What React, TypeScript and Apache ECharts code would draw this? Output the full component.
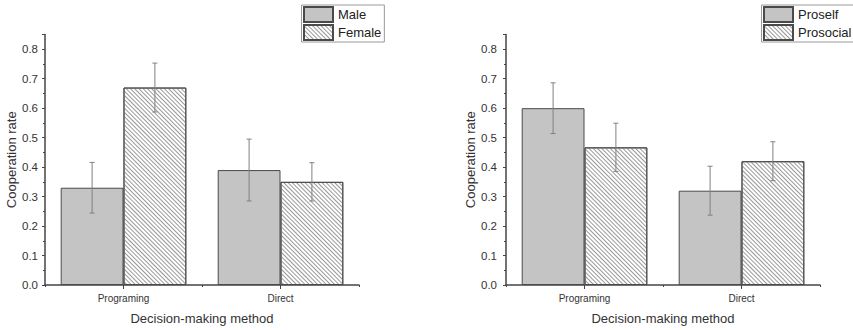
import React, { useEffect, useRef } from "react";
import * as echarts from "echarts";

const categories = ["Programing", "Direct"];
const maleValues = [0.33, 0.39];
const maleErrors = [0.086, 0.105];
const femaleValues = [0.67, 0.35];
const femaleErrors = [0.083, 0.065];
const proselfValues = [0.6, 0.32];
const proselfErrors = [0.086, 0.083];
const prosocialValues = [0.467, 0.42];
const prosocialErrors = [0.082, 0.066];
const yTickInterval = 0.1;

const FONT = "'Liberation Sans', Arial, sans-serif";
const AXIS_COLOR = "#444";
const TEXT_COLOR = "#333";

const solidStyle = { color: "#c4c4c4", borderColor: "#4a4a4a", borderWidth: 1 };
const hatchStyle = {
  color: "#ffffff",
  borderColor: "#4a4a4a",
  borderWidth: 1,
  decal: {
    symbol: "rect",
    symbolSize: 1,
    dashArrayX: [1, 0],
    dashArrayY: [1, 2],
    rotation: Math.PI / 4,
    color: "#999999",
    backgroundColor: "#ffffff",
  },
};

function errorData(values: number[], errors: number[], side: number) {
  return values.map((v, i) => [i, v, errors[i], side]);
}

function errorRenderItem(params: any, api: any) {
  const cat = api.value(0);
  const val = api.value(1);
  const err = api.value(2);
  const side = api.value(3);
  const band = api.size([1, 0])[0];
  const center = api.coord([cat, val]);
  const x = center[0] + side * band * 0.2;
  const top = api.coord([cat, val + err])[1];
  const bottom = api.coord([cat, val - err])[1];
  const cap = 2.5;
  const style = { stroke: "#808080", lineWidth: 1, fill: null };
  return {
    type: "group",
    children: [
      { type: "line", shape: { x1: x, y1: top, x2: x, y2: bottom }, style },
      { type: "line", shape: { x1: x - cap, y1: top, x2: x + cap, y2: top }, style },
      { type: "line", shape: { x1: x - cap, y1: bottom, x2: x + cap, y2: bottom }, style },
    ],
  };
}

function makeXAxis(gridIndex: number) {
  return {
    type: "category",
    gridIndex,
    position: "bottom",
    data: categories,
    axisLine: { show: true, lineStyle: { color: AXIS_COLOR, width: 1.5 } },
    axisTick: { show: true, alignWithLabel: true, length: 4, lineStyle: { color: AXIS_COLOR } },
    axisLabel: { fontSize: 10, margin: 8, color: TEXT_COLOR, fontFamily: FONT },
    name: "Decision-making method",
    nameLocation: "middle",
    nameGap: 27,
    nameTextStyle: { fontSize: 13, color: TEXT_COLOR, fontFamily: FONT },
    splitLine: { show: false },
  };
}

function makeMinorXAxis(gridIndex: number) {
  return {
    type: "category",
    gridIndex,
    position: "bottom",
    offset: 0,
    data: categories,
    axisLine: { show: false },
    axisTick: { show: true, alignWithLabel: false, length: 2, lineStyle: { color: AXIS_COLOR } },
    axisLabel: { show: false },
    splitLine: { show: false },
  };
}

function makeYAxis(gridIndex: number, margin: number) {
  return {
    type: "value",
    gridIndex,
    min: 0,
    max: 0.85,
    interval: yTickInterval,
    axisLine: { show: true, lineStyle: { color: AXIS_COLOR, width: 1.5 } },
    axisTick: { show: true, length: 3, lineStyle: { color: AXIS_COLOR } },
    minorTick: { show: true, splitNumber: 2, length: 2, lineStyle: { color: AXIS_COLOR } },
    splitLine: { show: false },
    axisLabel: {
      formatter: (v: number) => v.toFixed(1),
      showMaxLabel: false,
      margin,
      fontSize: 11.5,
      color: TEXT_COLOR,
      fontFamily: FONT,
    },
    name: "Cooperation rate",
    nameLocation: "middle",
    nameGap: 25,
    nameTextStyle: { fontSize: 13, color: TEXT_COLOR, fontFamily: FONT },
  };
}

function barSeries(name: string, values: number[], axisIndex: number, style: any) {
  return {
    type: "bar",
    name,
    xAxisIndex: axisIndex,
    yAxisIndex: axisIndex,
    data: values,
    barGap: "0%",
    barCategoryGap: "20%",
    itemStyle: style,
    emphasis: { disabled: true },
  };
}

function errSeries(name: string, values: number[], errors: number[], side: number, axisIndex: number) {
  return {
    type: "custom",
    name: name + " error",
    xAxisIndex: axisIndex,
    yAxisIndex: axisIndex,
    data: errorData(values, errors, side),
    renderItem: errorRenderItem,
    z: 10,
    silent: true,
  };
}

function makeLegend(left: number, names: string[]) {
  return {
    left,
    top: 5,
    orient: "vertical",
    icon: "rect",
    itemWidth: 29,
    itemHeight: 15,
    itemGap: 1,
    padding: [1, 3, 1, 1.5],
    borderColor: "#999",
    borderWidth: 1,
    selectedMode: false,
    textStyle: { fontSize: 13, color: "#222", fontFamily: FONT },
    data: names,
  };
}

export default function App() {
  const ref = useRef<HTMLDivElement>(null);
  useEffect(() => {
    document.body.style.margin = "0";
    const chart = echarts.init(ref.current!, null, { renderer: "svg" });
    chart.setOption({
      animation: false,
      backgroundColor: "#ffffff",
      textStyle: { fontFamily: FONT },
      legend: [makeLegend(301.5, ["Male", "Female"]), makeLegend(761.5, ["Proself", "Prosocial"])],
      grid: [
        { left: 45, right: 494, top: 34.5, bottom: 42.3 },
        { left: 506, right: 33, top: 34.5, bottom: 42.3 },
      ],
      xAxis: [makeXAxis(0), makeXAxis(1), makeMinorXAxis(0), makeMinorXAxis(1)],
      yAxis: [makeYAxis(0, 7), makeYAxis(1, 9)],
      series: [
        barSeries("Male", maleValues, 0, solidStyle),
        barSeries("Female", femaleValues, 0, hatchStyle),
        barSeries("Proself", proselfValues, 1, solidStyle),
        barSeries("Prosocial", prosocialValues, 1, hatchStyle),
        errSeries("Male", maleValues, maleErrors, -1, 0),
        errSeries("Female", femaleValues, femaleErrors, 1, 0),
        errSeries("Proself", proselfValues, proselfErrors, -1, 1),
        errSeries("Prosocial", prosocialValues, prosocialErrors, 1, 1),
      ],
    });
    return () => chart.dispose();
  }, []);
  return <div ref={ref} style={{ width: 853, height: 330 }} />;
}
